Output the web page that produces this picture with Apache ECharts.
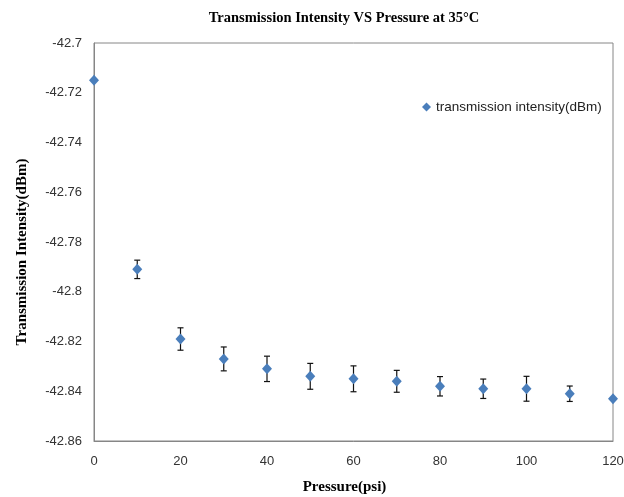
<!DOCTYPE html>
<html>
<head>
<meta charset="utf-8">
<script src="https://cdn.jsdelivr.net/npm/echarts@6/dist/echarts.min.js"></script>
<style>
  html, body { margin: 0; padding: 0; background: #fff; }
  #chart { width: 624px; height: 497px; }
</style>
</head>
<body>
<div id="chart"></div>
<script>
// pressure (psi)
const pressure = [0, 10, 20, 30, 40, 50, 60, 70, 80, 90, 100, 110, 120];
// transmission intensity (dBm)
const intensity = [-42.715, -42.791, -42.819, -42.827, -42.831, -42.834, -42.835, -42.836, -42.838, -42.839, -42.839, -42.841, -42.843];
// error bar half-heights (dBm)
const errors = [0, 0.0037, 0.0045, 0.0048, 0.0051, 0.0052, 0.0052, 0.0044, 0.0039, 0.0039, 0.005, 0.0031, 0];

const xTicks = [0, 20, 40, 60, 80, 100, 120];
const yTicks = [-42.86, -42.84, -42.82, -42.8, -42.78, -42.76, -42.74, -42.72, -42.7];

const points = pressure.map((p, i) => [p, intensity[i]]);
const errData = pressure.map((p, i) => [p, intensity[i] - errors[i], intensity[i] + errors[i]]);

const dom = document.getElementById('chart');
const myChart = echarts.init(dom);

const option = {
  animation: false,
  title: {
    text: 'Transmission Intensity VS Pressure at 35°C',
    left: 339,
    textAlign: 'center',
    top: 6,
    textStyle: { fontFamily: 'Liberation Serif', fontWeight: 'bold', fontSize: 14.5, color: '#000' }
  },
  legend: {
    data: ['transmission intensity(dBm)'],
    left: 417,
    top: 95,
    itemWidth: 9,
    itemHeight: 9,
    itemGap: 4,
    textStyle: { fontFamily: 'Liberation Sans', fontSize: 13.5, color: '#222' }
  },
  grid: {
    left: 94, right: 11, top: 43, bottom: 56,
    outerBoundsMode: 'none',
    show: true, borderColor: '#868686', borderWidth: 1
  },
  xAxis: {
    type: 'value',
    min: xTicks[0],
    max: xTicks[xTicks.length - 1],
    interval: 20,
    name: 'Pressure(psi)',
    nameLocation: 'middle',
    nameGap: 39,
    nameTextStyle: { fontFamily: 'Liberation Serif', fontWeight: 'bold', fontSize: 15, color: '#000', padding: [0, 18, 0, 0] },
    axisLine: { show: true, lineStyle: { color: '#868686' } },
    axisTick: { show: false },
    splitLine: { show: false },
    axisLabel: { margin: 14, fontFamily: 'Liberation Sans', fontSize: 13, color: '#333' }
  },
  yAxis: {
    type: 'value',
    min: yTicks[0],
    max: yTicks[yTicks.length - 1],
    interval: 0.02,
    name: 'Transmission Intensity(dBm)',
    nameLocation: 'middle',
    nameGap: 64,
    nameTextStyle: { fontFamily: 'Liberation Serif', fontWeight: 'bold', fontSize: 15, color: '#000', padding: [0, 20, 0, 0] },
    axisLine: { show: true, lineStyle: { color: '#868686' } },
    axisTick: { show: false },
    splitLine: { show: false },
    axisLabel: {
      margin: 12, fontFamily: 'Liberation Sans', fontSize: 13, color: '#333',
      formatter: v => String(parseFloat(v.toFixed(2)))
    }
  },
  series: [
    {
      type: 'custom',
      name: 'error',
      data: errData,
      z: 1,
      renderItem: function (params, api) {
        const x = api.value(0);
        const lo = api.coord([x, api.value(1)]);
        const hi = api.coord([x, api.value(2)]);
        if (Math.abs(lo[1] - hi[1]) < 1) return null;
        const w = 3;
        const style = { stroke: '#111', lineWidth: 1.2 };
        return {
          type: 'group',
          children: [
            { type: 'line', shape: { x1: lo[0], y1: lo[1], x2: hi[0], y2: hi[1] }, style: style },
            { type: 'line', shape: { x1: lo[0] - w, y1: lo[1], x2: lo[0] + w, y2: lo[1] }, style: style },
            { type: 'line', shape: { x1: hi[0] - w, y1: hi[1], x2: hi[0] + w, y2: hi[1] }, style: style }
          ]
        };
      }
    },
    {
      type: 'scatter',
      name: 'transmission intensity(dBm)',
      data: points,
      symbol: 'diamond',
      symbolSize: [10, 11],
      z: 3,
      itemStyle: { color: '#4a7ebb', opacity: 1 }
    }
  ]
};

myChart.setOption(option, true);
</script>
</body>
</html>
